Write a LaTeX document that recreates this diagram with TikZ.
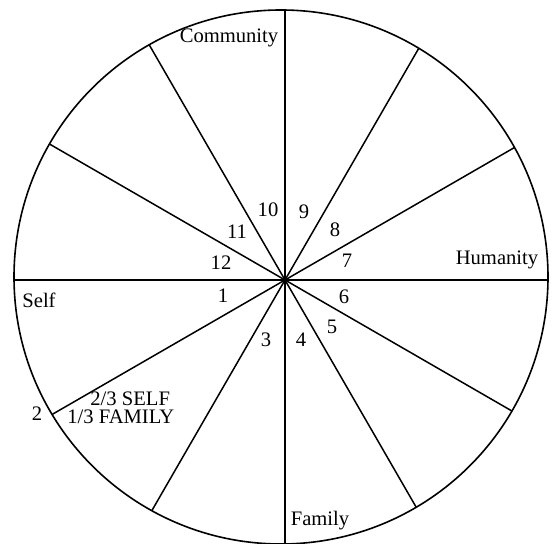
\documentclass[tikz,border=0pt]{standalone}
\usepackage{fontspec}
\setmainfont{Liberation Serif}
\usetikzlibrary{positioning,calc}
\tikzset{
  every node/.style={font=\fontsize{10.3}{12}\selectfont,inner sep=0pt},
  rim/.style={line width=0.8pt},
  spoke/.style={line width=0.75pt},
  share/.style={anchor=base west}
}
\begin{document}
\begin{tikzpicture}[x=0.5pt,y=-0.5pt]
  \useasboundingbox (0,0) rectangle (557,544);
  \coordinate (ctr) at (281,277);
  \coordinate (hub) at (285,280);

  % spokes, cut at the rim
  \begin{scope}
    \clip (ctr) circle[radius=267];
    \foreach \a in {0,30,...,330}
      \draw[spoke] (hub) -- ++(\a:330);
  \end{scope}
  \draw[rim] (ctr) circle[radius=267];

  % sector numbers
  \foreach \n/\x/\y in {1/223/296,3/266/340,4/301/340,5/332/327,6/344/297,
                        7/347/261,8/335/230,9/304/212,10/268/210,11/237/232,12/221/263}
    \node (s\n) at (\x,\y) {\n};
  \node[anchor=base] (s2) at (37,421) {2};

  \node (community) at (229,38) {Community};
  \node (humanity) at (497,260) {Humanity};
  \node (self) at (39,300) {Self};
  \node (family) at (320,521) {Family};
  \node[share] (selfpart) at (90,406) {2/3 SELF};
  \node[share] (familypart) at (67,424) {1/3 FAMILY};
\end{tikzpicture}
\end{document}
